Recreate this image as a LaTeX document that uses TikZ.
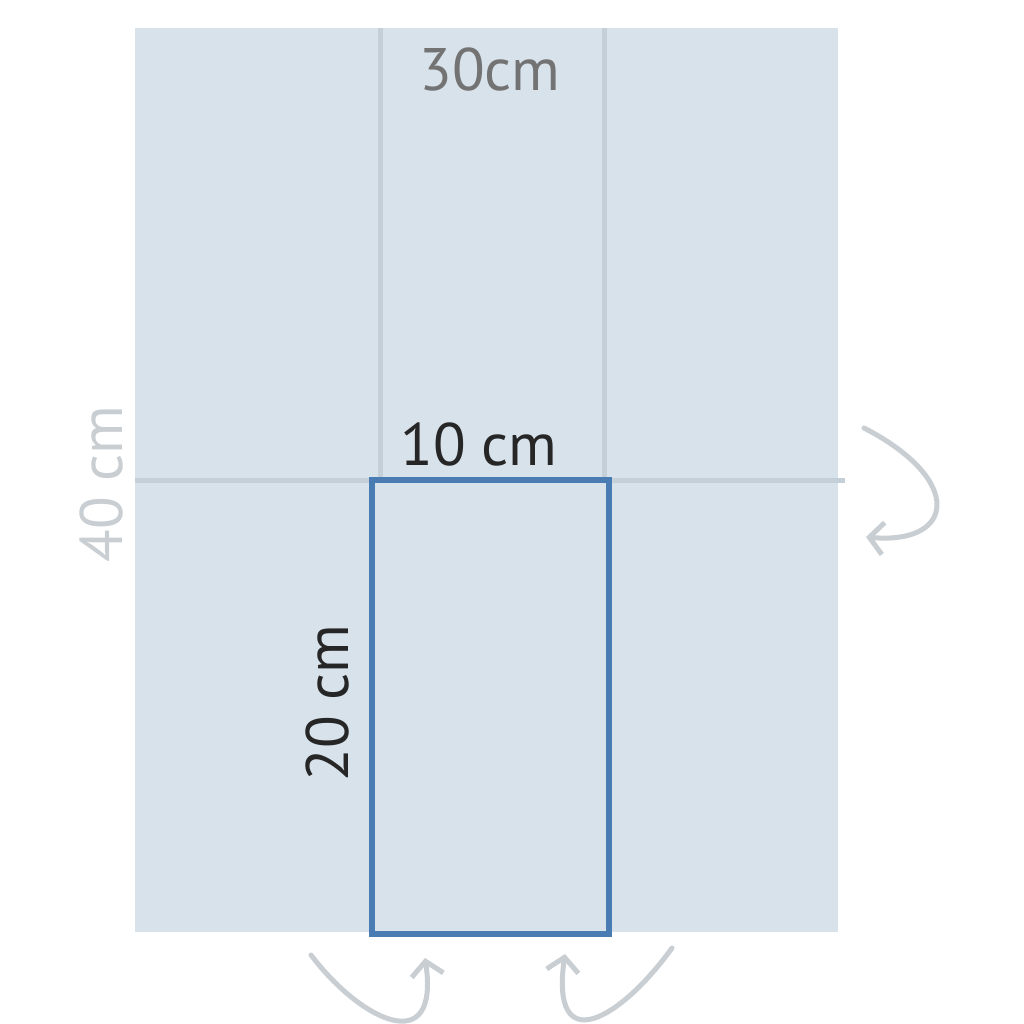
\documentclass[tikz,border=0pt]{standalone}
\usepackage{fontspec}
\setmainfont{PT Sans}
\usepackage{xcolor}
\usepackage{tikz}
\usetikzlibrary{arrows.meta}

\definecolor{sheet}{HTML}{D7E2EB}
\definecolor{fold}{HTML}{C4CFD8}
\definecolor{box}{HTML}{4A7CB4}
\definecolor{hint}{HTML}{C9CED3}

\begin{document}
\begin{tikzpicture}[x=1pt,y=-1pt,inner sep=0pt,
  >={Straight Barb[length=14pt,width=32pt]},
  hint arrow/.style={hint,line width=5,line cap=round,->}]
\useasboundingbox (0,0) rectangle (1024,1024);
\fill[white] (0,0) rectangle (1024,1024);
\fill[sheet] (135,28) rectangle (838,932);

\draw[fold,line width=5] (380,28) -- (380,478);
\draw[fold,line width=5] (604,28) -- (604,478);
\draw[fold,line width=5] (135,480) -- (845,480);
\draw[box,line width=6] (372,480) rectangle (609,934);

\node[text=black!55,font=\fontsize{60}{68}\selectfont] (W) at (490,70) {30cm};
\node[text=black!85,font=\fontsize{60}{68}\selectfont] (T) at (479,444) {10 cm};
\node[text=black!85,font=\fontsize{60}{68}\selectfont,rotate=90] (S) at (327,703) {20 cm};
\node[text=hint,font=\fontsize{60}{68}\selectfont,rotate=90] (H) at (101,484) {40 cm};

\draw[hint arrow] (864,428) .. controls (965,480) and (955,545) .. (866,537);
\draw[hint arrow] (311,955) .. controls (360,1020) and (440,1060) .. (425,958);
\draw[hint arrow] (672,948) .. controls (620,1020) and (550,1060) .. (565,954);

\end{tikzpicture}
\end{document}
